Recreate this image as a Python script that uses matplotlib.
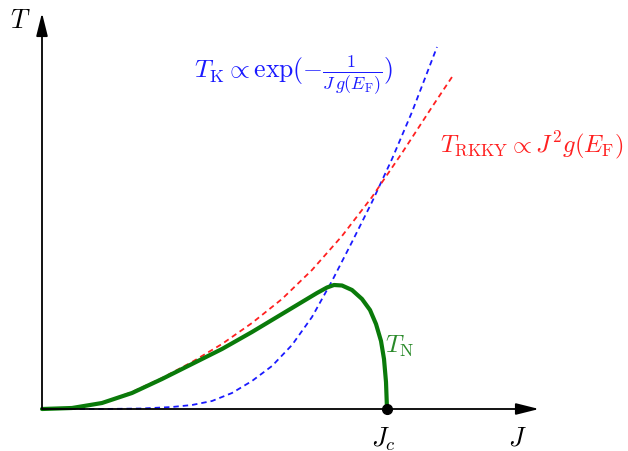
import matplotlib.pyplot as plt

plt.rcParams['mathtext.fontset'] = 'cm'

# curves (arbitrary units, origin at the axes corner)
J_rkky = [0, 30, 60, 90, 120, 150, 180, 210, 240, 270, 300, 330, 360, 390, 410]
T_rkky = [0, 1, 6, 17, 31, 47, 65, 86, 110, 139, 173, 212, 256, 302, 332]

J_kondo = [0, 60, 100, 130, 150, 170, 190, 210, 230, 250, 270, 290, 310, 330, 350, 370, 395]
T_kondo = [0, 0, 0.5, 2, 4, 8, 16, 28, 43, 64, 92, 128, 167, 207, 250, 297, 362]

J_neel = [0, 30, 60, 90, 120, 150, 180, 210, 240, 260, 275, 285, 292, 300,
          310, 320, 328, 334, 339, 342, 344, 345]
T_neel = [0, 1, 6, 16, 30, 45, 60, 77, 95, 107, 116, 121.5, 124, 123.5,
          119, 110, 99, 85, 68, 50, 27, 0]

J_c = 345

fig = plt.figure(figsize=(6.28, 4.52), dpi=100)
ax = fig.add_axes([0, 0, 1, 1])
ax.set_xlim(-42, 586)
ax.set_ylim(-42, 410)
ax.axis('off')

# axes with arrow heads
arrow = dict(arrowstyle='-|>,head_length=1.4,head_width=0.35', lw=1.3,
             color='k', mutation_scale=10, shrinkA=0, shrinkB=0)
ax.annotate('', xy=(497, 0), xytext=(0, 0), arrowprops=arrow)
ax.annotate('', xy=(0, 396), xytext=(0, 0), arrowprops=arrow)

ax.plot(J_kondo, T_kondo, color='#1a1aff', lw=1.3, dashes=(3, 2.2))
ax.plot(J_rkky, T_rkky, color='#ff2020', lw=1.3, dashes=(3, 2.2))
ax.plot(J_neel, T_neel, color='#0a7a0a', lw=3, solid_capstyle='round',
        solid_joinstyle='round')
ax.plot([J_c], [0], 'o', color='k', ms=7, zorder=5)

ax.text(-22, 389, r'$T$', fontsize=19, ha='center', va='center')
ax.text(475, -29, r'$J$', fontsize=19, ha='center', va='center')
ax.text(341, -29, r'$J_c$', fontsize=19, ha='center', va='center')
ax.text(152, 335, r'$T_{\rm K} \propto \exp(-\frac{1}{J\,g(E_{\rm F})})$',
        fontsize=18.5, color='#1a1aff', ha='left', va='center')
ax.text(398, 265, r'$T_{\rm RKKY} \propto J^2 g(E_{\rm F})$',
        fontsize=17.7, color='#ff2020', ha='left', va='center')
ax.text(343, 64, r'$T_{\rm N}$', fontsize=18, color='#2a8a2a', ha='left', va='center')

fig.savefig('out.png', dpi=100)
